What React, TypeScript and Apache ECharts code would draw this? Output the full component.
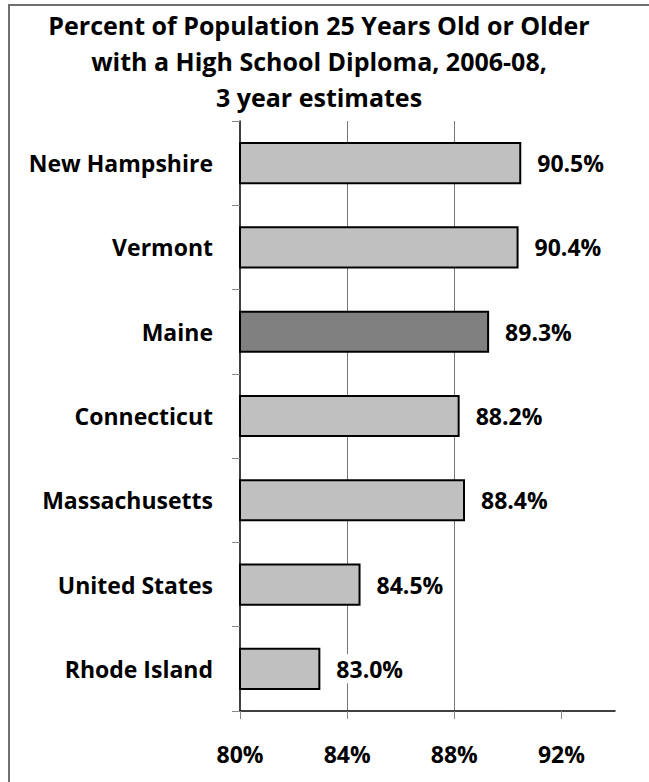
import React, { useEffect, useRef } from "react";
import * as echarts from "echarts";

const categories = ["New Hampshire", "Vermont", "Maine", "Connecticut", "Massachusetts", "United States", "Rhode Island"];
const values = [90.5, 90.4, 89.3, 88.2, 88.4, 84.5, 83.0];
const highlighted = "Maine";
const xTicks = [80, 84, 88, 92];
const titleText = "Percent of Population 25 Years Old or Older\nwith a High School Diploma, 2006-08,\n3 year estimates";

const FONT = "'Open Sans', 'Noto Sans', sans-serif";

export default function App() {
  const ref = useRef<HTMLDivElement>(null);
  useEffect(() => {
    if (!ref.current) return;
    const chart = echarts.init(ref.current, null, { renderer: "svg" });
    chart.setOption({
      animation: false,
      backgroundColor: "#fff",
      textStyle: { fontFamily: FONT },
      title: {
        text: titleText,
        left: 319,
        top: 7,
        padding: 0,
        textAlign: "center",
        textStyle: { fontFamily: FONT, fontSize: 25, fontWeight: "bold", color: "#000", lineHeight: 36 },
      },
      graphic: [
        {
          type: "rect",
          shape: { x: 9, y: 5, width: 700, height: 820 },
          style: { fill: "none", stroke: "#707070", lineWidth: 2 },
          silent: true,
        },
      ],
      grid: { left: 240, right: 34, top: 121, bottom: 71, containLabel: false },
      xAxis: {
        type: "value",
        min: 80,
        max: 94,
        interval: 4,
        axisLine: { show: true, lineStyle: { color: "#000", width: 1.5 } },
        axisTick: { show: true, length: 8, lineStyle: { color: "#888" }, customValues: xTicks },
        axisLabel: {
          customValues: xTicks,
          formatter: (v: number) => (v === 94 ? "" : v + "%"),
          margin: 31,
          fontSize: 23,
          fontWeight: "bold",
          color: "#000",
          fontFamily: FONT,
        },
        splitLine: { show: true, showMinLine: false, showMaxLine: false, lineStyle: { color: "#777", width: 1 } },
      },
      yAxis: {
        type: "category",
        data: categories,
        inverse: true,
        axisLine: { show: true, lineStyle: { color: "#000", width: 1.5 } },
        axisTick: { show: true, length: 8, lineStyle: { color: "#888" } },
        axisLabel: { margin: 27, fontSize: 23, fontWeight: "bold", color: "#000", fontFamily: FONT },
        splitLine: { show: false },
      },
      series: [
        {
          type: "bar",
          barWidth: "50%",
          data: values.map((v, i) => ({
            value: v,
            itemStyle: { color: categories[i] === highlighted ? "#808080" : "#c0c0c0" },
          })),
          itemStyle: { borderColor: "#000", borderWidth: 2 },
          label: {
            show: true,
            position: "right",
            distance: 13,
            formatter: (p: any) => Number(p.value).toFixed(1) + "%",
            fontSize: 23,
            fontWeight: "bold",
            color: "#000",
            fontFamily: FONT,
            backgroundColor: "#fff",
            padding: [3, 3],
          },
        },
      ],
    });
    return () => chart.dispose();
  }, []);
  return <div ref={ref} style={{ position: "fixed", left: 0, top: 0, width: 649, height: 782 }} />;
}
